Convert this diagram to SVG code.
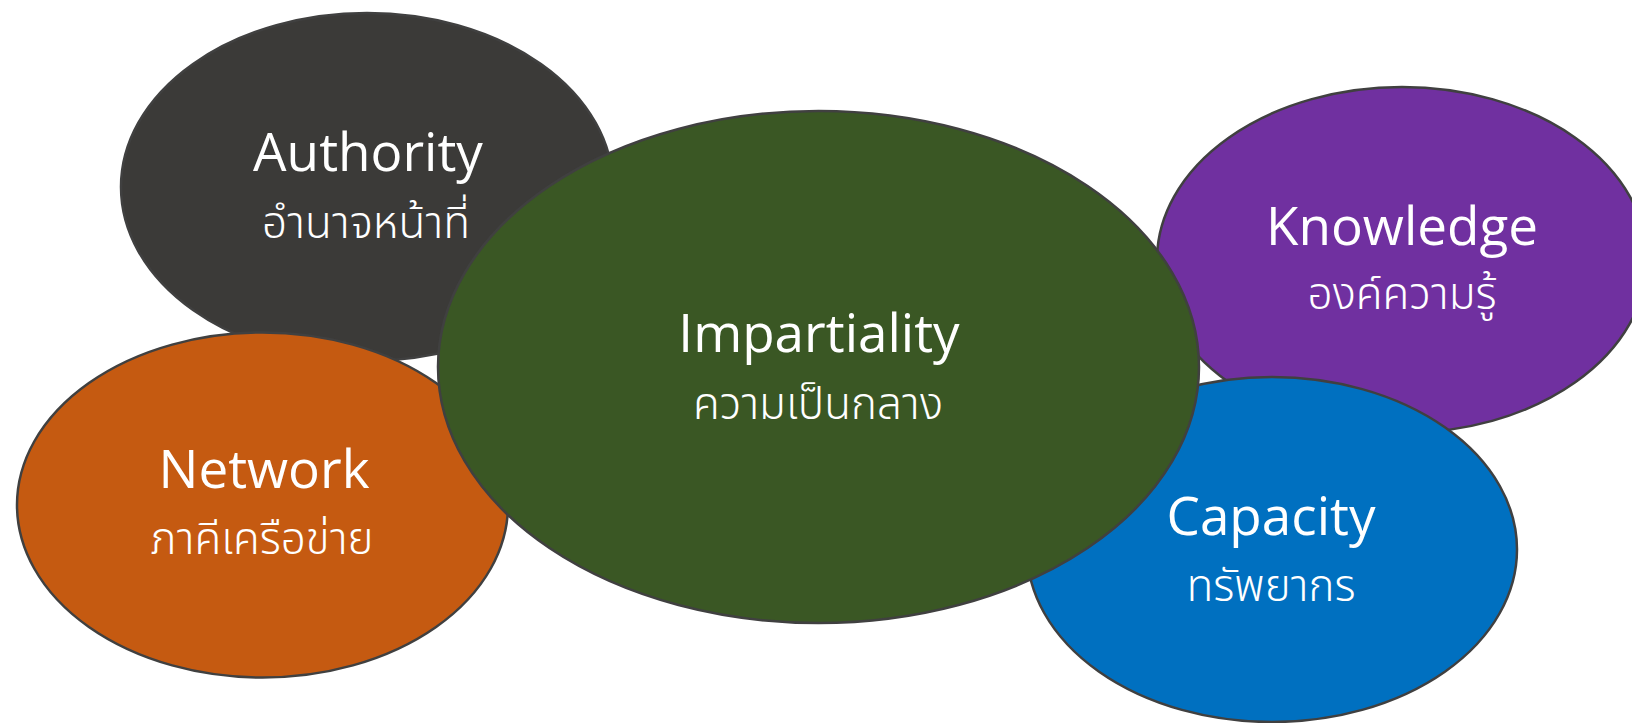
<svg xmlns="http://www.w3.org/2000/svg" width="1632" height="723" viewBox="0 0 1632 723">
<style>
.node ellipse{stroke:#404040;stroke-width:2.5}
.en{font-family:"Open Sans","Noto Sans",sans-serif;font-size:53px;fill:#ffffff;text-anchor:middle}
.th{font-family:"Noto Sans Thai","Leelawadee UI","Tahoma","Open Sans",sans-serif;font-size:44px;font-weight:300;fill:#ffffff;text-anchor:middle}
</style>
<rect width="1632" height="723" fill="#ffffff"/>
<g id="connectors"></g>
<g id="authority" class="node">
<ellipse cx="367" cy="187" rx="246" ry="174" fill="#3b3a38"/>
<text class="en" x="368" y="171">Authority</text>
<text class="th" x="366" y="238">อำนาจหน้าที่</text>
</g>
<g id="network" class="node">
<ellipse cx="262.5" cy="505" rx="245.5" ry="172.5" fill="#c55a11"/>
<text class="en" x="264" y="488">Network</text>
<text class="th" x="262" y="554">ภาคีเครือข่าย</text>
</g>
<g id="knowledge" class="node">
<ellipse cx="1402" cy="260" rx="245" ry="173" fill="#7030a0"/>
<text class="en" x="1402" y="245">Knowledge</text>
<text class="th" x="1402" y="309">องค์ความรู้</text>
</g>
<g id="capacity" class="node">
<ellipse cx="1272" cy="549.5" rx="245" ry="172.5" fill="#0070c0"/>
<text class="en" x="1271" y="535">Capacity</text>
<text class="th" x="1271" y="601">ทรัพยากร</text>
</g>
<g id="impartiality" class="node">
<ellipse cx="818.5" cy="367" rx="380.5" ry="256" fill="#3a5724"/>
<text class="en" x="819" y="352">Impartiality</text>
<text class="th" x="818" y="419">ความเป็นกลาง</text>
</g>
</svg>
